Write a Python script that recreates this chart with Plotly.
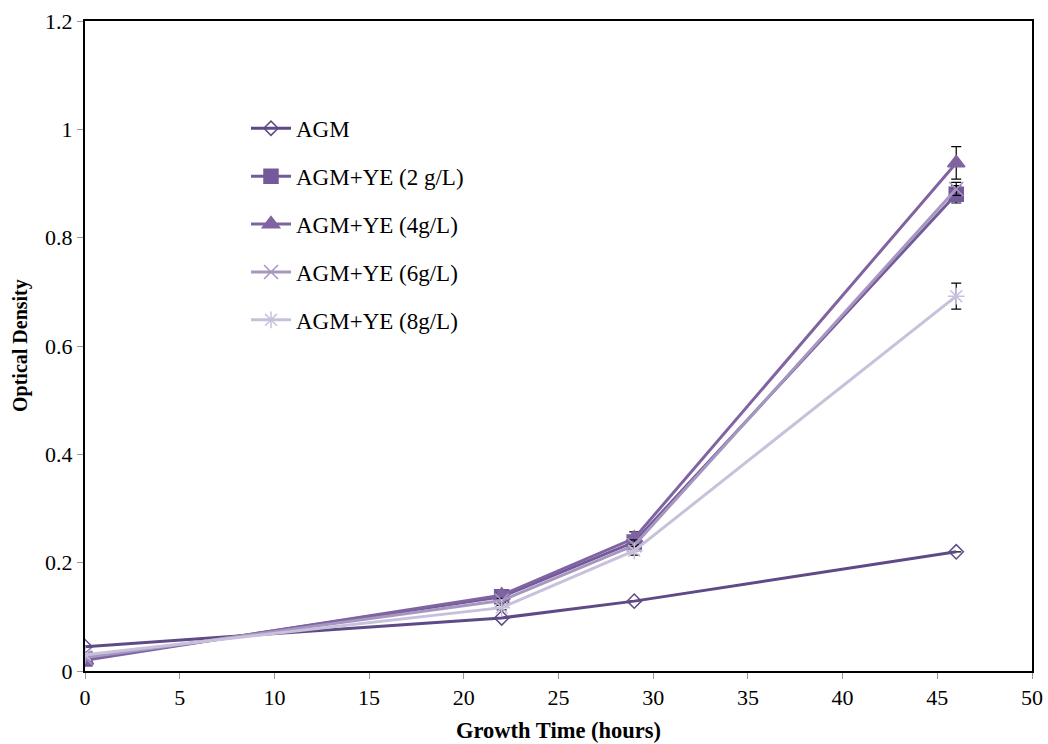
import plotly.graph_objects as go

# Growth time points (hours)
hours = [0, 22, 29, 46]

# Optical density per medium
agm = [0.045, 0.098, 0.129, 0.220]
ye2 = [0.022, 0.137, 0.238, 0.880]
ye4 = [0.020, 0.140, 0.245, 0.938]
ye6 = [0.025, 0.130, 0.232, 0.890]
ye8 = [0.030, 0.117, 0.222, 0.692]

# Standard deviations
agm_err = [0.0, 0.0, 0.0, 0.0]
ye2_err = [0.0, 0.004, 0.008, 0.016]
ye4_err = [0.0, 0.004, 0.012, 0.030]
ye6_err = [0.0, 0.004, 0.010, 0.012]
ye8_err = [0.0, 0.004, 0.008, 0.024]

names = ["AGM", "AGM+YE (2 g/L)", "AGM+YE (4g/L)", "AGM+YE (6g/L)", "AGM+YE (8g/L)"]
series = [agm, ye2, ye4, ye6, ye8]
errors = [agm_err, ye2_err, ye4_err, ye6_err, ye8_err]
colors = ["#5e4a86", "#745a9b", "#8064a2", "#a597c0", "#c9c1db"]
symbols = ["diamond-open", "square", "triangle-up", "x-thin-open", "asterisk-open"]
sizes = [11, 14, 15, 14, 14]

fig = go.Figure()
for i, (name, ys, err, col, sym, sz) in enumerate(zip(names, series, errors, colors, symbols, sizes)):
    fig.add_trace(go.Scatter(
        x=hours, y=ys, name=name, mode="lines+markers",
        line=dict(color=col, width=3),
        marker=dict(symbol=sym, size=sz, color=col,
                    line=dict(color=col, width=1.5)),
        error_y=dict(type="data", array=err, visible=True,
                     color="black", thickness=1.2, width=5),
        legendgroup=f"g{i}",
    ))

tick_font = dict(family="Liberation Serif", size=22, color="black")
xtitle_font = dict(family="Liberation Serif", size=22.5, color="black")
ytitle_font = dict(family="Liberation Serif", size=20, color="black")

fig.update_layout(
    width=1048, height=744,
    margin=dict(l=85, r=16, t=21, b=73, autoexpand=False),
    paper_bgcolor="white", plot_bgcolor="white",
    font=tick_font,
    showlegend=True,
    legend=dict(
        x=0.170, y=0.868, xanchor="left", yanchor="top",
        bgcolor="rgba(0,0,0,0)", font=dict(family="Liberation Serif", size=23, color="black"),
        tracegroupgap=15, itemwidth=40,
    ),
    xaxis=dict(
        range=[0, 50], tickmode="array", tickvals=list(range(0, 51, 5)),
        showgrid=False, zeroline=False, automargin=False,
        showline=True, linecolor="black", linewidth=2, mirror=True,
        ticks="outside", ticklen=6, tickcolor="#999999", tickwidth=1,
        tickfont=tick_font,
    ),
    yaxis=dict(
        range=[0, 1.2], tickmode="array",
        tickvals=[0, 0.2, 0.4, 0.6, 0.8, 1.0, 1.2],
        ticktext=["0", "0.2", "0.4", "0.6", "0.8", "1", "1.2"],
        showgrid=False, zeroline=False, automargin=False,
        showline=True, linecolor="black", linewidth=2, mirror=True,
        ticks="outside", ticklen=6, tickcolor="#999999", tickwidth=1,
        tickfont=tick_font,
    ),
    annotations=[
        dict(text="<b>Growth Time (hours)</b>", font=xtitle_font,
             xref="paper", yref="paper", x=0.5, y=0, yshift=-59,
             xanchor="center", yanchor="middle", showarrow=False),
        dict(text="<b>Optical Density</b>", font=ytitle_font, textangle=-90,
             xref="paper", yref="paper", x=0, y=0.5, xshift=-65,
             xanchor="center", yanchor="middle", showarrow=False),
    ],
)

fig.write_html("out.html")
